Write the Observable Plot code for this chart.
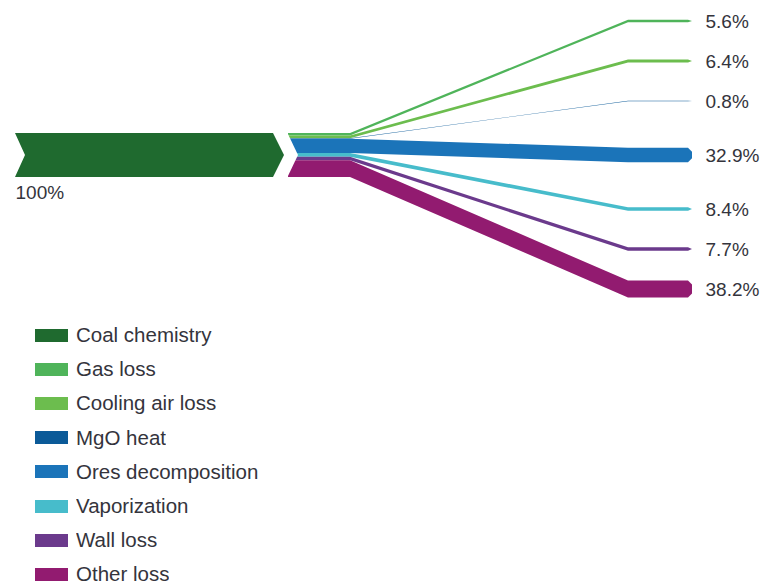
<!DOCTYPE html>
<html>
<head>
<meta charset="utf-8">
<script src="https://cdn.jsdelivr.net/npm/d3@7"></script>
<script src="https://cdn.jsdelivr.net/npm/@observablehq/plot@0.6"></script>
<style>
  html, body { margin: 0; padding: 0; background: #fff; }
  body { font-family: "Liberation Sans", Arial, sans-serif; }
  #chart svg { display: block; }
  #legend { margin-left: 35px; }
  .lossleg-swatches { font-family: "Liberation Sans", Arial, sans-serif; font-size: 20.5px; color: #34343c; margin: 0; }
  .lossleg-swatch { height: 34.2px; padding: 0; }
  .lossleg-swatch > svg { margin-right: 8px; }
</style>
</head>
<body>
<div id="chart"></div>
<div id="legend"></div>
<script>
// Energy balance: one source split into its loss streams (percent of total)
const source = "Coal chemistry";
const sourceValue = 100;
const flows = ["Gas loss", "Cooling air loss", "MgO heat", "Ores decomposition", "Vaporization", "Wall loss", "Other loss"];
const shares = [5.6, 6.4, 0.8, 32.9, 8.4, 7.7, 38.2];

const categories = [source, ...flows];
const palette = ["#1f6a2f", "#4fb45a", "#6cbd4e", "#0b5a98", "#1b74b9", "#47bccb", "#6b3a8c", "#921b70"];

// Layout (pixel units; x and y scales are identity)
const W = 767, H = 318;
const pxPerPct = 0.44;          // band thickness per percent
const midY = 155;
const xTail = 15, xNotch = 25, xHead = 273, xTip = 284;
const xFlow = 288, xFlowNotch = 298, xBend1 = 350, xBend2 = 628, xEnd = 688, xPoint = 692;
const xLabel = 705;
const slotGap = 40, slotOffset = 14;

// Source arrow (chevron) built from the source value
const half = sourceValue * pxPerPct / 2;
const arrow = [
  {name: source, y: midY - half, x1: xTail, x2: xHead},
  {name: source, y: midY, x1: xNotch, x2: xTip},
  {name: source, y: midY + half, x1: xTail, x2: xHead}
];

// Stack the streams at the split, then fan them out to their end slots
const total = d3.sum(shares);
const mid = Math.floor(flows.length / 2);
let acc = midY - total * pxPerPct / 2;
const rows = flows.map((name, i) => {
  const h = shares[i] * pxPerPct;
  const y0 = acc;
  acc += h;
  const d = i - mid;
  const cy = d === 0 ? midY : midY + Math.sign(d) * (slotOffset + slotGap * Math.abs(d));
  return {name, value: shares[i], y0, y1: y0 + h, h, cy};
});
const stackTop = rows[0].y0, stackBottom = acc;

const bandPoints = rows.flatMap((r) => {
  const tipHalf = Math.max(0, r.h / 2 - 4);
  return [
    {name: r.name, x: xFlow, y1: r.y0, y2: r.y1},
    {name: r.name, x: xBend1, y1: r.y0, y2: r.y1},
    {name: r.name, x: xBend2, y1: r.cy - r.h / 2, y2: r.cy + r.h / 2},
    {name: r.name, x: xEnd, y1: r.cy - r.h / 2, y2: r.cy + r.h / 2},
    {name: r.name, x: xPoint, y1: r.cy - tipHalf, y2: r.cy + tipHalf}
  ];
});

// Notch cut into the left edge of the split
const notch = [
  {y: stackTop - 1, x1: xFlow - 1, x2: xFlow - 1},
  {y: midY, x1: xFlow - 1, x2: xFlowNotch},
  {y: stackBottom + 1, x1: xFlow - 1, x2: xFlow - 1}
];

const labelFont = {fontSize: 19, fill: "#34343c", fontFamily: "Liberation Sans, Arial, sans-serif"};

const chart = Plot.plot({
  width: W,
  height: H,
  margin: 0,
  style: {background: "#fff", fontFamily: "Liberation Sans, Arial, sans-serif"},
  x: {domain: [0, W], range: [0, W], axis: null},
  y: {domain: [0, H], range: [0, H], axis: null},
  color: {domain: categories, range: palette},
  marks: [
    Plot.areaX(arrow, {y: "y", x1: "x1", x2: "x2", fill: "name", z: "name"}),
    Plot.areaY(bandPoints, {x: "x", y1: "y1", y2: "y2", fill: "name", z: "name", curve: "linear"}),
    Plot.areaX(notch, {y: "y", x1: "x1", x2: "x2", fill: "white"}),
    Plot.text(rows, {x: xLabel, y: "cy", text: (d) => d.value.toFixed(1) + "%", textAnchor: "start", ...labelFont}),
    Plot.text([sourceValue], {x: xTail, y: midY + half + 15, text: (d) => d + "%", textAnchor: "start", ...labelFont})
  ]
});

document.getElementById("chart").append(chart);
document.getElementById("legend").append(
  chart.legend("color", {columns: 1, swatchWidth: 33, swatchHeight: 13, className: "lossleg"})
);
</script>
</body>
</html>
